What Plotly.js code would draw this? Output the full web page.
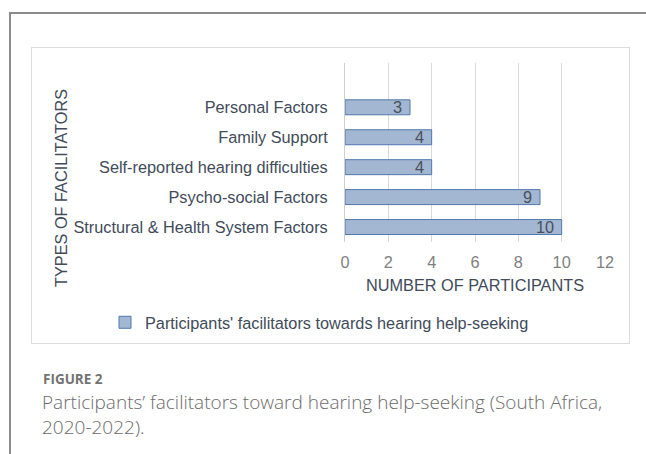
<!DOCTYPE html>
<html>
<head>
<meta charset="utf-8">
<script src="https://cdn.plot.ly/plotly-3.0.1.min.js"></script>
<style>
  html, body { margin:0; padding:0; background:#fff; width:646px; height:454px; overflow:hidden; }
  #frameTop { position:absolute; left:9px; top:12px; width:637px; height:2px; background:#8c8c8c; }
  #frameLeft { position:absolute; left:9px; top:12px; width:2px; height:442px; background:#8c8c8c; }
  #box { position:absolute; left:31px; top:47px; width:597px; height:295px; border:1px solid #dcdcdc; }
  #chart { position:absolute; left:0; top:0; width:597px; height:295px; }
  #figlabel { position:absolute; left:43px; top:370px; font-family:"Open Sans", "Noto Sans", sans-serif; font-weight:700; font-size:13.5px; color:#737373; }
  #caption { position:absolute; left:42px; top:390px; font-family:"Open Sans", "Noto Sans", sans-serif; font-weight:300; font-size:19px; line-height:25px; color:#6b6b6b; white-space:nowrap; }
</style>
</head>
<body>
<div id="frameTop"></div>
<div id="frameLeft"></div>
<div id="box"><div id="chart"></div></div>
<div id="figlabel">FIGURE 2</div>
<div id="caption">Participants’ facilitators toward hearing help-seeking (South Africa,<br>2020-2022).</div>
<script>
// Data (bottom to top order as drawn)
const categories = [
  "Structural & Health System Factors",
  "Psycho-social Factors",
  "Self-reported hearing difficulties",
  "Family Support",
  "Personal Factors"
];
const participants = [10, 9, 4, 4, 3];
const seriesName = "Participants' facilitators towards hearing help-seeking";
const xTickValues = [0, 2, 4, 6, 8, 10, 12];
const xTitle = "NUMBER OF PARTICIPANTS";
const yTitle = "TYPES OF FACILITATORS";

const textColor = "#414b5a";
const fontFam = "Liberation Sans, Arial, sans-serif";
const fs = 16.3;

const trace = {
  type: "bar",
  orientation: "h",
  y: categories,
  x: participants,
  name: seriesName,
  width: 0.5,
  marker: { color: "#a3b6d2", line: { color: "#5079ad", width: 1 } },
  hoverinfo: "x+y",
  showlegend: true
};

const valueAnnotations = participants.map((v, i) => ({
  x: v, y: categories[i], xref: "x", yref: "y",
  text: String(v), showarrow: false, xanchor: "right", yanchor: "middle",
  xshift: -6, font: { family: fontFam, size: fs, color: "#4a505a" }
}));

const layout = {
  width: 597, height: 295,
  margin: { l: 313, r: 24, t: 15, b: 101 },
  paper_bgcolor: "#fff", plot_bgcolor: "#fff",
  font: { family: fontFam, size: fs, color: textColor },
  bargap: 0.5,
  xaxis: {
    range: [0, 12],
    tickvals: xTickValues,
    ticktext: xTickValues.map(String),
    showgrid: true, gridcolor: "#d9d9d9", gridwidth: 1,
    zeroline: false, showline: false, ticks: "",
    ticklabelstandoff: 9,
    tickfont: { family: fontFam, size: fs, color: "#808080" },
    title: { text: xTitle, standoff: 9, font: { family: fontFam, size: fs, color: textColor } },
    fixedrange: true
  },
  yaxis: {
    type: "category",
    categoryorder: "array", categoryarray: categories,
    range: [-0.5, 5.48],
    showgrid: false, zeroline: false,
    showline: true, linecolor: "#d0d0d0", linewidth: 1,
    ticks: "", ticklabelstandoff: 13,
    tickfont: { family: fontFam, size: fs, color: textColor },
    fixedrange: true
  },
  showlegend: true,
  legend: {
    orientation: "h",
    xref: "container", yref: "container",
    x: 73 / 597, xanchor: "left",
    y: 1 - 274.7 / 295, yanchor: "middle",
    font: { family: fontFam, size: fs, color: textColor },
    bgcolor: "rgba(0,0,0,0)", borderwidth: 0
  },
  annotations: valueAnnotations.concat([{
    text: yTitle, xref: "paper", yref: "paper",
    x: (29 - 313) / 260, y: 1 - (140 - 15) / 179,
    xanchor: "center", yanchor: "middle", textangle: -90, showarrow: false,
    font: { family: fontFam, size: fs, color: textColor }
  }])
};

Plotly.newPlot("chart", [trace], layout, { displayModeBar: false, staticPlot: true });
</script>
</body>
</html>
